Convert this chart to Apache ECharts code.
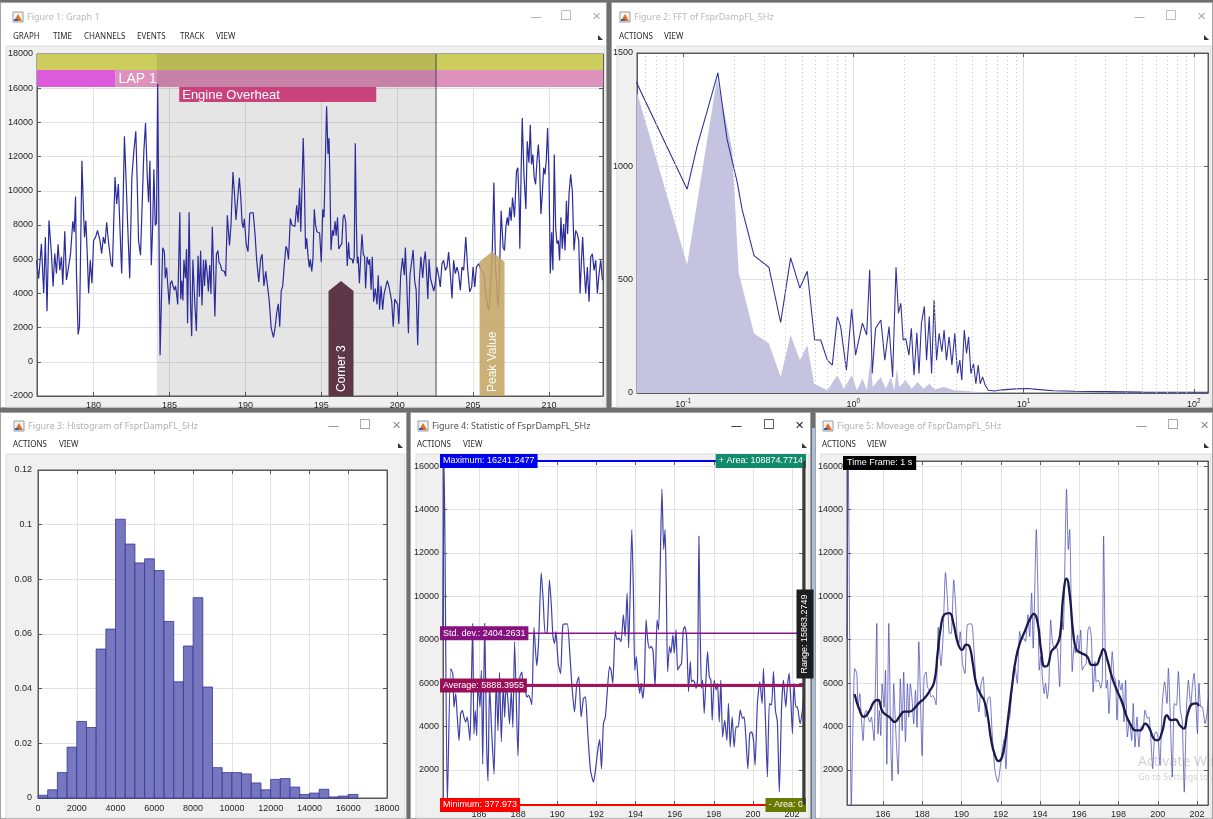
<!DOCTYPE html>
<html>
<head>
<meta charset="utf-8">
<title>FsprDampFL_5Hz analysis</title>
<script src="https://cdn.jsdelivr.net/npm/echarts@6.0.0/dist/echarts.min.js"></script>
<style>
  html, body { margin: 0; padding: 0; background: #6f6f6f; }
  #main { width: 1213px; height: 819px; }
</style>
</head>
<body>
<div id="main"></div>
<script>
// ---------- recorded channel FsprDampFL_5Hz : [time (s), value] ----------
const signal = [
  [176.23,5940],[176.38,4880],[176.56,6900],[176.71,4010],[176.82,7290],[176.93,2950],[177.06,8260],[177.22,6330],[177.33,4400],[177.44,6330],
  [177.55,5170],[177.66,6870],[177.77,5360],[177.88,6140],[177.97,4500],[178.10,7640],[178.21,4780],[178.32,5360],[178.48,6330],[178.63,8220],
  [178.72,7580],[178.81,9670],[178.87,5170],[178.98,1600],[179.07,2080],[179.23,11760],[179.34,8650],[179.40,7290],[179.49,8260],[179.58,6330],
  [179.67,4010],[179.78,5940],[179.89,4590],[180.00,7090],[180.13,7290],[180.26,7680],[180.42,7090],[180.53,6330],[180.64,7290],[180.75,6900],
  [180.86,8160],[180.97,7090],[181.15,5750],[181.24,5560],[181.41,10800],[181.52,9230],[181.63,10390],[181.74,7680],[181.85,5170],[182.03,13190],
  [182.14,10580],[182.25,7870],[182.38,4880],[182.52,10780],[182.65,12310],[182.78,13480],[182.87,10580],[182.96,7090],[183.09,6230],[183.20,9230],
  [183.31,12310],[183.42,13960],[183.53,10970],[183.62,9330],[183.71,11760],[183.80,5650],[183.89,7870],[183.97,11260],[184.06,7970],[184.14,8100],
  [184.22,16241.2477],[184.38,377.973],[184.55,6670],[184.66,6440],[184.72,4890],[184.81,5510],[184.89,4430],[184.98,3350],[185.06,4580],[185.15,4740],
  [185.23,4430],[185.32,4200],[185.40,4430],[185.47,3960],[185.54,3350],[185.61,5970],[185.68,8750],[185.74,3660],[185.81,4740],[185.88,3580],
  [185.95,5970],[186.05,4890],[186.12,6590],[186.19,2260],[186.29,8750],[186.39,3190],[186.46,1490],[186.54,5970],[186.63,4120],[186.68,3190],
  [186.77,1800],[186.88,6200],[186.97,3810],[187.05,6500],[187.14,3300],[187.24,5970],[187.31,4430],[187.39,5970],[187.48,5200],[187.56,4120],
  [187.65,5660],[187.73,3960],[187.82,7900],[187.99,2650],[188.09,6280],[188.19,6510],[188.26,5820],[188.36,5660],[188.45,5350],[188.53,5430],
  [188.62,5280],[188.70,5000],[188.81,8570],[188.95,6800],[189.05,8000],[189.18,11100],[189.28,9840],[189.38,8290],[189.48,8300],[189.60,10760],
  [189.70,9530],[189.78,8140],[189.86,7830],[189.93,8370],[190.05,6900],[190.17,6440],[190.29,8690],[190.51,8730],[190.63,7530],[190.74,5990],
  [190.88,4670],[191.00,5990],[191.10,6290],[191.22,4440],[191.34,5290],[191.44,5370],[191.56,3670],[191.70,1970],[191.85,1430],[191.95,1970],
  [192.07,2900],[192.17,3390],[192.26,2050],[192.36,4130],[192.46,4440],[192.55,5520],[192.67,6760],[192.75,6600],[192.84,5990],[192.96,8380],
  [193.06,8000],[193.16,8070],[193.26,7910],[193.38,9150],[193.47,8150],[193.57,10150],[193.65,7610],[193.81,13080],[193.89,10300],[193.96,6600],
  [194.04,7220],[194.13,6140],[194.21,5520],[194.28,5990],[194.37,5290],[194.45,5990],[194.54,8920],[194.62,8000],[194.71,7610],[194.79,7690],
  [194.89,7530],[195.00,5830],[195.10,8920],[195.18,8450],[195.35,14940],[195.44,12160],[195.51,13080],[195.57,10600],[195.64,6530],[195.74,7690],
  [195.81,7380],[195.91,8220],[195.98,7380],[196.07,8450],[196.15,6600],[196.24,6760],[196.35,6910],[196.44,8450],[196.52,8610],[196.61,8150],
  [196.71,5600],[196.80,6990],[196.86,6060],[196.95,6140],[197.03,5990],[197.09,5760],[197.17,6140],[197.24,12780],[197.31,8150],[197.37,5760],
  [197.43,6140],[197.51,4600],[197.60,6140],[197.68,7450],[197.77,6290],[197.85,6140],[197.92,4290],[198.02,6140],[198.12,5680],[198.19,5990],
  [198.28,4210],[198.36,6140],[198.45,3520],[198.56,4290],[198.67,3360],[198.75,5060],[198.84,3050],[198.94,4440],[199.04,3050],[199.14,3980],
  [199.25,3980],[199.35,4750],[199.47,4370],[199.55,4440],[199.64,3520],[199.74,2050],[199.84,3670],[199.93,3750],[200.03,3360],[200.11,2210],
  [200.23,5060],[200.35,6060],[200.47,5060],[200.54,6680],[200.64,4370],[200.74,1670],[200.84,5060],[200.95,4980],[201.05,6530],[201.15,4750],
  [201.25,4210],[201.35,970],[201.46,4750],[201.56,6140],[201.68,4900],[201.76,5830],[201.85,6450],[201.93,5370],[202.02,3670],[202.10,5990],
  [202.19,4900],[202.27,4900],[202.41,4130],[202.51,4600],[202.62,5540],[202.73,5060],[202.84,4380],[202.95,5740],[203.06,5930],[203.17,5350],
  [203.28,5540],[203.39,6410],[203.50,5160],[203.61,3710],[203.72,5930],[203.83,5160],[203.94,5540],[204.05,5160],[204.16,4190],[204.27,5540],
  [204.38,5350],[204.52,7290],[204.65,5350],[204.78,4090],[204.91,4380],[205.00,5540],[205.11,4380],[205.22,5540],[205.37,5740],[205.53,5350],
  [205.70,5160],[205.84,4000],[205.95,3300],[206.04,3000],[206.15,4380],[206.26,6320],[206.37,10480],[206.48,5540],[206.59,3800],[206.67,3220],
  [206.76,5930],[206.85,8830],[206.98,6700],[207.07,6510],[207.16,7870],[207.25,8450],[207.33,7960],[207.42,9030],[207.51,8250],[207.60,9610],
  [207.73,8450],[207.86,11160],[207.95,11350],[208.04,9030],[208.08,6610],[208.17,11350],[208.24,14250],[208.35,10960],[208.48,8930],[208.57,12900],
  [208.68,11640],[208.77,13860],[208.85,11540],[208.94,12120],[209.03,10770],[209.12,10380],[209.21,11740],[209.30,12700],[209.38,11540],[209.47,8640],
  [209.56,9800],[209.65,11350],[209.74,10960],[209.82,11740],[209.91,13670],[210.00,10960],[210.09,5160],[210.18,7580],[210.26,5350],[210.35,12120],
  [210.44,7870],[210.53,6900],[210.62,7090],[210.70,5930],[210.79,8450],[210.88,6610],[210.97,8060],[211.06,6510],[211.15,9410],[211.23,7480],
  [211.32,9800],[211.43,10960],[211.54,9990],[211.65,6510],[211.76,7680],[211.87,7480],[211.96,7090],[212.05,4000],[212.14,5930],[212.22,7290],
  [212.31,5540],[212.42,4000],[212.53,5540],[212.64,3510],[212.75,6120],[212.86,6320],[212.97,5350],[213.08,5930],[213.19,4000],[213.30,5160],
  [213.41,5930],[213.52,4770]
];

// ---------- moving average over a 1 s time frame : [time (s), value] ----------
const movingAverage = [
  [184.55,5490],[184.77,4830],[185.03,4440],[185.28,4680],[185.54,5140],[185.74,5220],[185.97,4680],[186.31,4440],[186.61,4210],[186.82,4440],
  [187.08,4680],[187.33,4680],[187.59,4830],[187.84,5090],[188.10,5290],[188.35,5600],[188.61,6070],[188.78,7380],[188.95,8620],[189.12,9160],
  [189.38,9230],[189.58,8770],[189.81,7840],[190.03,7530],[190.23,7770],[190.40,7690],[190.57,6920],[190.74,5990],[190.95,5520],[191.17,5140],
  [191.34,4440],[191.51,3360],[191.68,2740],[191.89,2400],[192.06,2590],[192.23,3360],[192.40,4600],[192.59,5990],[192.79,7220],[193.00,7920],
  [193.22,8380],[193.47,8920],[193.68,9190],[193.88,8770],[194.05,7530],[194.24,6760],[194.41,6840],[194.58,7460],[194.81,7690],[195.01,8150],
  [195.18,10010],[195.35,10820],[195.52,10010],[195.69,8310],[195.86,7530],[196.12,7380],[196.41,7220],[196.63,6840],[196.85,6840],[197.06,7220],
  [197.23,7560],[197.43,7070],[197.66,6300],[197.91,5680],[198.17,5140],[198.42,4440],[198.63,4060],[198.85,3820],[199.11,3820],[199.36,4130],
  [199.58,3900],[199.79,3440],[199.99,3360],[200.22,3750],[200.47,4520],[200.68,4290],[200.90,4320],[201.12,4060],[201.32,3900],[201.53,4600],
  [201.75,5030],[201.97,5060],[202.09,4940]
];

// ---------- histogram of the channel (bin start, probability density) ----------
const histBinStart = [0,500,1000,1500,2000,2500,3000,3500,4000,4500,5000,5500,6000,6500,7000,7500,8000,8500,9000,9500,
  10000,10500,11000,11500,12000,12500,13000,13500,14000,14500,15000,15500,16000];
const histBinWidth = 500;
const histDensity = [0.001,0.003,0.0093,0.0186,0.028,0.0258,0.0545,0.0618,0.102,0.0929,0.086,0.0875,0.0832,0.0646,0.0425,0.0556,0.0733,0.0406,0.0111,0.0093,
  0.0093,0.0088,0.0055,0.003,0.0068,0.0071,0.004,0.0013,0.0018,0.0032,0.0004,0.0007,0.0013];

// ---------- FFT : [frequency (Hz), amplitude] ----------
const fftSpectrum = [
  [0.0531,1372],[0.1056,899],[0.121,1090],[0.138,1240],[0.160,1412],[0.181,1121],[0.208,929],[0.222,810],[0.261,606],[0.319,555],
  [0.374,311],[0.428,596],[0.485,463],[0.536,537],[0.592,234],[0.643,234],[0.703,145],[0.752,123],[0.805,337],[0.842,293],
  [0.910,101],[0.977,370],[1.03,167],[1.13,308],[1.197,256],[1.247,544],[1.29,86],[1.35,285],[1.45,322],[1.53,145],
  [1.62,293],[1.70,71],[1.78,555],[1.84,352],[1.90,396],[1.96,234],[2.03,241],[2.12,167],[2.19,285],[2.27,78],
  [2.36,266],[2.43,86],[2.51,308],[2.61,382],[2.69,145],[2.79,337],[2.88,86],[2.98,411],[3.08,145],[3.19,263],
  [3.31,182],[3.41,278],[3.52,145],[3.65,248],[3.79,123],[3.94,263],[4.09,86],[4.22,145],[4.33,56],[4.48,278],
  [4.62,175],[4.75,248],[4.90,86],[5.08,130],[5.24,41],[5.41,123],[5.56,41],[5.74,71],[5.95,34],[6.2,12],
  [6.72,9],[7.5,14],[9,18],[10.5,20],[12,16],[15,10],[20,8],[30,6],[50,4],[80,3],[121,3]
];
const fftFilled = [
  [0.0531,1336],[0.1056,566],[0.158,1385],[0.194,1077],[0.212,530],[0.261,263],[0.319,219],[0.374,71],[0.428,256],[0.485,145],
  [0.536,211],[0.588,41],[0.703,12],[0.805,78],[0.88,19],[0.977,78],[1.05,12],[1.13,64],[1.2,12],[1.26,145],
  [1.3,27],[1.45,71],[1.55,19],[1.66,71],[1.74,12],[1.80,108],[1.86,27],[2.03,56],[2.2,19],[2.38,49],
  [2.58,19],[2.8,41],[3.0,15],[3.4,27],[3.9,12],[4.6,9],[5.5,3],[8,1],[121,0]
];
const fftMinorFreq = [0.06,0.07,0.08,0.09,0.2,0.3,0.4,0.5,0.6,0.7,0.8,0.9,2,3,4,5,6,7,8,9,20,30,40,50,60,70,80,90];
const fftRange = [0.0536, 121];

// ---------- statistics of the selected window ----------
const statMaximum = 16241.2477;
const statMinimum = 377.973;
const statAverage = 5888.3955;
const statStdDev = 2404.2631;
const statAreaPos = 108874.7714;
const statAreaNeg = 0;
const statRange = 15863.2749;

// ---------- track annotations ----------
const graphRange = [176.27, 213.56];
const sessionSpan = [176.27, 213.56];
const laps = [
  { name: '', start: 176.27, end: 181.45 },
  { name: 'LAP 1', start: 181.45, end: 213.56 }
];
const events = [{ name: 'Engine Overheat', start: 185.64, end: 198.62 }];
const selection = [184.16, 202.56];
const markers = [
  { name: 'Corner 3', time: 196.3, value: 4720 },
  { name: 'Peak Value', time: 206.25, value: 6430 }
];
const timeFrameLabel = 'Time Frame: 1 s';

// ---------- drawing ----------
const FONT = '"Liberation Sans", Arial, sans-serif';
const UI_FONT = '"Noto Sans", "Liberation Sans", sans-serif';

function mkAxis(grid, position, o, label) {
  const a = {
    type: o.type || 'value', gridIndex: grid, position: position,
    min: o.min, max: o.max,
    axisLine: { show: true, onZero: false, lineStyle: { color: '#5a5a5a', width: 1 } },
    axisTick: { show: true, inside: true, length: 4, lineStyle: { color: '#5a5a5a' } },
    axisLabel: Object.assign({ color: '#262626', fontSize: 9, fontFamily: FONT, margin: 5, formatter: v => String(v) }, label || {}),
    splitLine: { show: true, lineStyle: { color: '#e2e2e2', width: 1 } },
    silent: true
  };
  if (o.interval !== undefined) a.interval = o.interval;
  if (o.splitNumber !== undefined) a.splitNumber = o.splitNumber;
  if (o.logBase) a.logBase = o.logBase;
  return a;
}
function mkMirror(grid, position, o) {
  const a = mkAxis(grid, position, o);
  a.axisLabel = { show: false };
  a.splitLine = { show: false };
  return a;
}
const hideEnds = { showMinLabel: false, showMaxLabel: false };

const p1x = { min: graphRange[0], max: graphRange[1], splitNumber: 7 };
const p1y = { min: -2000, max: 18000, interval: 2000 };
const p2x = { type: 'log', min: fftRange[0], max: fftRange[1], logBase: 10 };
const p2y = { min: 0, max: 1500, interval: 500 };
const p3x = { min: 0, max: 18000, interval: 2000 };
const p3y = { min: 0, max: 0.12, interval: 0.02 };
const p4x = { min: selection[0], max: selection[1], splitNumber: 9 };
const p4y = { min: statMinimum, max: statMaximum, splitNumber: 8 };

const logLabel = {
  formatter: v => '{b|10}{e|' + Math.round(Math.log10(v)) + '}',
  rich: {
    b: { fontSize: 9, fontFamily: FONT, color: '#262626' },
    e: { fontSize: 6.5, fontFamily: FONT, color: '#262626', padding: [0, 0, 7, 0] }
  },
  showMinLabel: false, showMaxLabel: false
};

const xAxes = [
  mkAxis(0, 'bottom', p1x, hideEnds), mkMirror(0, 'top', p1x),
  mkAxis(1, 'bottom', p2x, logLabel), mkMirror(1, 'top', p2x),
  mkAxis(2, 'bottom', p3x, { margin: 6 }), mkMirror(2, 'top', p3x),
  mkAxis(3, 'bottom', p4x, hideEnds), mkMirror(3, 'top', p4x),
  mkAxis(4, 'bottom', p4x, hideEnds), mkMirror(4, 'top', p4x)
];
const yAxes = [
  mkAxis(0, 'left', p1y, { margin: 4 }), mkMirror(0, 'right', p1y),
  mkAxis(1, 'left', p2y, { margin: 4 }), mkMirror(1, 'right', p2y),
  mkAxis(2, 'left', p3y, { margin: 6 }), mkMirror(2, 'right', p3y),
  mkAxis(3, 'left', p4y, Object.assign({ margin: 4 }, hideEnds)), mkMirror(3, 'right', p4y),
  mkAxis(4, 'left', p4y, Object.assign({ margin: 4 }, hideEnds)), mkMirror(4, 'right', p4y)
];

const gridBase = { show: true, backgroundColor: '#ffffff', borderColor: '#5a5a5a', borderWidth: 1, containLabel: false };
const grids = [
  Object.assign({ left: 37, top: 54, width: 566, height: 342 }, gridBase),
  Object.assign({ left: 637, top: 53, width: 571, height: 340 }, gridBase),
  Object.assign({ left: 38, top: 470, width: 349, height: 328 }, gridBase),
  Object.assign({ left: 443, top: 461, width: 360, height: 344 }, gridBase),
  Object.assign({ left: 847, top: 461, width: 361, height: 344 }, gridBase)
];

// strip rows at the top of the track graph: [offset from plot top, height] in px
const STRIP_ROWS = [[0, 16], [16, 17], [33, 15]];
const STRIP_COLORS = ['#cdcd5e', '#dc5adc', '#de91bc'];
const stripData = [[sessionSpan[0], sessionSpan[1], 0, 0]]
  .concat(laps.map((l, i) => [l.start, l.end, 1, 1 + (i % 2)]));

function renderStrip(params, api) {
  const cs = params.coordSys;
  const x0 = Math.max(cs.x, api.coord([api.value(0), 0])[0]);
  const x1 = Math.min(cs.x + cs.width, api.coord([api.value(1), 0])[0]);
  const row = STRIP_ROWS[api.value(2)];
  return { type: 'rect', shape: { x: x0, y: cs.y + row[0], width: x1 - x0, height: row[1] },
           style: { fill: STRIP_COLORS[api.value(3)] } };
}

function renderSelection(params, api) {
  const cs = params.coordSys;
  const x0 = api.coord([api.value(0), 0])[0];
  const x1 = api.coord([api.value(1), 0])[0];
  return { type: 'group', children: [
    { type: 'rect', shape: { x: x0, y: cs.y, width: x1 - x0, height: cs.height }, style: { fill: 'rgba(0,0,0,0.1)' } },
    { type: 'line', shape: { x1: x1, y1: cs.y, x2: x1, y2: cs.y + cs.height }, style: { stroke: '#4a4a4a', lineWidth: 1 } }
  ] };
}

const annotData = events.map(e => [e.start, e.end, 2, 1])
  .concat(laps.filter(l => l.name).map(l => [l.start, l.end, 1, 0]));
const annotLabels = events.map(e => e.name).concat(laps.filter(l => l.name).map(l => l.name));

function renderAnnot(params, api) {
  const cs = params.coordSys;
  const x0 = api.coord([api.value(0), 0])[0];
  const x1 = api.coord([api.value(1), 0])[0];
  const row = STRIP_ROWS[api.value(2)];
  const boxed = api.value(3) === 1;
  const children = [];
  if (boxed) {
    children.push({ type: 'rect', shape: { x: x0, y: cs.y + row[0], width: x1 - x0, height: row[1] }, style: { fill: '#c9427b' } });
  }
  children.push({ type: 'text', x: x0 + 3, y: cs.y + row[0] + row[1] / 2 + 1,
    style: { text: annotLabels[params.dataIndex], fill: '#ffffff', font: (boxed ? '13px ' : '14px ') + FONT,
             textAlign: 'left', textVerticalAlign: 'middle', align: 'left', verticalAlign: 'middle' } });
  return { type: 'group', children: children };
}

const MARKER_COLORS = ['#5d3747', 'rgba(196,166,100,0.88)'];
const markerData = markers.map(m => [m.time, m.value]);
function renderMarker(params, api) {
  const cs = params.coordSys;
  const p = api.coord([api.value(0), api.value(1)]);
  const bottom = cs.y + cs.height;
  const hw = 12.5, sh = 10;
  return { type: 'group', children: [
    { type: 'polygon', shape: { points: [[p[0] - hw, bottom], [p[0] - hw, p[1] + sh], [p[0], p[1]], [p[0] + hw, p[1] + sh], [p[0] + hw, bottom]] },
      style: { fill: MARKER_COLORS[params.dataIndex] } },
    { type: 'text', x: p[0] + 1, y: bottom - 4, rotation: Math.PI / 2,
      style: { text: markers[params.dataIndex].name, fill: '#ffffff', font: '12px ' + FONT,
               textAlign: 'left', textVerticalAlign: 'middle', align: 'left', verticalAlign: 'middle' } }
  ] };
}

const histData = histBinStart.map((s, i) => [s, histDensity[i]]);
function renderBin(params, api) {
  const x0 = api.value(0), h = api.value(1);
  const a = api.coord([x0, h]);
  const b = api.coord([x0 + histBinWidth, 0]);
  return { type: 'rect', shape: { x: a[0], y: a[1], width: b[0] - a[0], height: b[1] - a[1] },
           style: { fill: '#7777bf', stroke: '#35359c', lineWidth: 0.8 } };
}

// statistic lines of the selected window
const statLines = [
  { value: statMaximum, left: 'Maximum: ' + statMaximum, right: '+ Area: ' + statAreaPos },
  { value: statAverage + statStdDev, left: 'Std. dev.: ' + statStdDev },
  { value: statAverage, left: 'Average: ' + statAverage },
  { value: statMinimum, left: 'Minimum: ' + statMinimum, right: '- Area: ' + statAreaNeg }
];
const STAT_STYLE = [
  { line: '#0000f0', width: 2, box: '#0000f0', rightBox: '#128a6c' },
  { line: '#8c148c', width: 1.5, box: '#85127f' },
  { line: '#a3135f', width: 3, box: '#980f57' },
  { line: '#ff0000', width: 2, box: '#ff0000', rightBox: '#6a7a00' }
];
const statData = statLines.map(s => [selection[0], s.value]);
function boxText(x, y, text, bg, align) {
  return { type: 'text', x: x, y: y, z2: 10,
    style: { text: text, fill: '#ffffff', font: '9px ' + FONT, backgroundColor: bg, padding: [3, 3, 2, 3],
             textAlign: align, textVerticalAlign: 'middle', align: align, verticalAlign: 'middle' } };
}
function renderStat(params, api) {
  const cs = params.coordSys;
  const i = params.dataIndex;
  const st = STAT_STYLE[i];
  const y = api.coord([api.value(0), api.value(1)])[1];
  const children = [
    { type: 'line', shape: { x1: cs.x, y1: y, x2: cs.x + cs.width, y2: y }, style: { stroke: st.line, lineWidth: st.width } },
    boxText(cs.x - 3, y, statLines[i].left, st.box, 'left')
  ];
  if (statLines[i].right) children.push(boxText(cs.x + cs.width + 3, y, statLines[i].right, st.rightBox, 'right'));
  return { type: 'group', children: children };
}
function renderRange(params, api) {
  const cs = params.coordSys;
  const yTop = api.coord([selection[1], api.value(1)])[1];
  const yBot = api.coord([selection[1], api.value(0)])[1];
  const x = cs.x + cs.width + 1;
  return { type: 'group', children: [
    { type: 'line', shape: { x1: x, y1: yTop, x2: x, y2: yBot }, style: { stroke: '#3a3a3a', lineWidth: 3 } },
    { type: 'text', x: x + 1, y: (yTop + yBot) / 2 + 1, rotation: Math.PI / 2, z2: 10,
      style: { text: 'Range: ' + statRange, fill: '#ffffff', font: '9px ' + FONT, backgroundColor: '#1e1e1e', padding: [4, 5, 4, 5],
               textAlign: 'center', textVerticalAlign: 'middle', align: 'center', verticalAlign: 'middle' } }
  ] };
}

const series = [
  // Figure 1: track graph
  { type: 'custom', xAxisIndex: 0, yAxisIndex: 0, z: 1, silent: true, renderItem: renderStrip, data: stripData },
  { type: 'custom', xAxisIndex: 0, yAxisIndex: 0, z: 2, silent: true, renderItem: renderSelection, data: [[selection[0], selection[1]]] },
  { type: 'line', name: 'FsprDampFL_5Hz', xAxisIndex: 0, yAxisIndex: 0, z: 3, data: signal, showSymbol: false, symbol: 'none',
    lineStyle: { color: '#2b2b9c', width: 1.2 } },
  { type: 'custom', xAxisIndex: 0, yAxisIndex: 0, z: 4, silent: true, renderItem: renderAnnot, data: annotData },
  { type: 'custom', xAxisIndex: 0, yAxisIndex: 0, z: 5, silent: true, renderItem: renderMarker, data: markerData },
  // Figure 2: FFT
  { type: 'line', xAxisIndex: 2, yAxisIndex: 2, z: 2, data: fftFilled, showSymbol: false, symbol: 'none',
    lineStyle: { width: 0 }, areaStyle: { color: '#c4c4e1', opacity: 1 },
    markLine: { silent: true, symbol: ['none', 'none'], label: { show: false }, animation: false,
      lineStyle: { type: [1, 3], color: '#c6c6c6', width: 1 },
      data: fftMinorFreq.map(f => ({ xAxis: f })) } },
  { type: 'line', xAxisIndex: 2, yAxisIndex: 2, z: 3, data: fftSpectrum, showSymbol: false, symbol: 'none',
    lineStyle: { color: '#33339a', width: 1.1 } },
  // Figure 3: histogram
  { type: 'custom', xAxisIndex: 4, yAxisIndex: 4, silent: true, renderItem: renderBin, data: histData },
  // Figure 4: statistics
  { type: 'line', xAxisIndex: 6, yAxisIndex: 6, z: 2, data: signal, showSymbol: false, symbol: 'none', smooth: 0.2,
    lineStyle: { color: '#4040aa', width: 1.2 } },
  { type: 'custom', xAxisIndex: 6, yAxisIndex: 6, z: 5, silent: true, renderItem: renderStat, data: statData },
  { type: 'custom', xAxisIndex: 6, yAxisIndex: 6, z: 6, silent: true, renderItem: renderRange, data: [[statMinimum, statMaximum]] },
  // Figure 5: moving average
  { type: 'line', xAxisIndex: 8, yAxisIndex: 8, z: 2, data: signal, showSymbol: false, symbol: 'none', smooth: 0.2,
    lineStyle: { color: 'rgba(66,66,176,0.72)', width: 1 } },
  { type: 'line', xAxisIndex: 8, yAxisIndex: 8, z: 3, data: movingAverage, showSymbol: false, symbol: 'none', smooth: 0.5,
    lineStyle: { color: '#1a1a4e', width: 2.3 } }
];

// ---------- window frames ----------
const windows = [
  { x: 0, y: 2, w: 607, h: 406, title: 'Figure 1: Graph 1', menu: [['GRAPH', 13], ['TIME', 53], ['CHANNELS', 84], ['EVENTS', 137], ['TRACK', 180], ['VIEW', 216]],
    iconX: 13, titleX: 27, titleY: 17, menuY: 37, clientY: 46, ctrl: [531, 560, 592], tone: '#b9b9b9', ctrlTone: '#a8a8a8' },
  { x: 611, y: 2, w: 602, h: 406, title: 'Figure 2: FFT of FsprDampFL_5Hz', menu: [['ACTIONS', 619], ['VIEW', 664]],
    iconX: 620, titleX: 634, titleY: 17, menuY: 37, clientY: 46, ctrl: [1134, 1165, 1197], tone: '#b9b9b9', ctrlTone: '#a8a8a8' },
  { x: 0, y: 412, w: 407, h: 407, title: 'Figure 3: Histogram of FsprDampFL_5Hz', menu: [['ACTIONS', 13], ['VIEW', 59]],
    iconX: 14, titleX: 28, titleY: 426, menuY: 445, clientY: 454, ctrl: [328, 359, 392], tone: '#b0b0b0', ctrlTone: '#8a8a8a' },
  { x: 410, y: 412, w: 401, h: 407, title: 'Figure 4: Statistic of FsprDampFL_5Hz', menu: [['ACTIONS', 417], ['VIEW', 463]],
    iconX: 418, titleX: 432, titleY: 426, menuY: 445, clientY: 454, ctrl: [731, 763, 795], tone: '#505050', ctrlTone: '#222222' },
  { x: 815, y: 412, w: 398, h: 407, title: 'Figure 5: Moveage of FsprDampFL_5Hz', menu: [['ACTIONS', 822], ['VIEW', 867]],
    iconX: 823, titleX: 837, titleY: 426, menuY: 445, clientY: 454, ctrl: [1136, 1167, 1200], tone: '#b0b0b0', ctrlTone: '#8a8a8a' }
];

function txt(x, y, text, font, fill, z, extra) {
  return Object.assign({ type: 'text', x: x, y: y, z: z === undefined ? -5 : z, silent: true,
    style: Object.assign({ text: text, font: font, fill: fill, textAlign: 'left', textVerticalAlign: 'middle', align: 'left', verticalAlign: 'middle' }, extra || {}) });
}

const chrome = [];
windows.forEach(w => {
  chrome.push({ type: 'rect', z: -10, silent: true, shape: { x: w.x + 0.5, y: w.y + 0.5, width: w.w - 1, height: w.h - 1 },
    style: { fill: '#ffffff', stroke: '#a4a4a4', lineWidth: 1 } });
  chrome.push({ type: 'rect', z: -9, silent: true, shape: { x: w.x + 6, y: w.clientY, width: w.w - 8, height: w.y + w.h - w.clientY - 1 },
    style: { fill: '#f0f0f0', stroke: '#dcdcdc', lineWidth: 1 } });
  // figure icon
  chrome.push({ type: 'rect', z: -8, silent: true, shape: { x: w.iconX, y: w.titleY - 5, width: 10, height: 10 },
    style: { fill: '#f4f4f4', stroke: '#9a9a9a', lineWidth: 1 } });
  chrome.push({ type: 'polygon', z: -7, silent: true, shape: { points: [[w.iconX + 1, w.titleY + 4], [w.iconX + 5, w.titleY - 3], [w.iconX + 9, w.titleY + 4]] },
    style: { fill: '#e0701f' } });
  chrome.push({ type: 'rect', z: -7, silent: true, shape: { x: w.iconX + 1, y: w.titleY + 2, width: 4, height: 2 }, style: { fill: '#2f62b5' } });
  chrome.push(txt(w.titleX, w.titleY, w.title, '9px ' + UI_FONT, w.tone));
  w.menu.forEach(m => chrome.push(txt(m[1], w.menuY, m[0], '8px ' + UI_FONT, '#2a2a2a')));
  chrome.push(txt(w.ctrl[0], w.titleY, '\u2014', '11px ' + UI_FONT, w.ctrlTone));
  chrome.push(txt(w.ctrl[1], w.titleY, '\u2610', '13px "DejaVu Sans", sans-serif', w.ctrlTone));
  chrome.push(txt(w.ctrl[2], w.titleY, '\u2715', '11px "DejaVu Sans", sans-serif', w.ctrlTone));
  const rx = w.x + w.w - 5, ry = w.menuY;
  chrome.push({ type: 'polygon', z: -7, silent: true, shape: { points: [[rx - 4, ry - 2], [rx + 1, ry + 3], [rx - 4, ry + 3]] }, style: { fill: '#333333' } });
});
// active-window edge next to Figure 5
chrome.push({ type: 'rect', z: -6, silent: true, shape: { x: 812, y: 428, width: 3, height: 391 }, style: { fill: '#a9c0d8' } });
// Figure 5 time-frame tag
chrome.push(txt(843, 463, timeFrameLabel, '9px ' + FONT, '#ffffff', 60, { backgroundColor: '#000000', padding: [3, 4, 2, 4] }));
// desktop watermark
chrome.push(txt(1138, 762, 'Activate Windows', '14px ' + UI_FONT, 'rgba(128,128,128,0.35)', 70));
chrome.push(txt(1138, 777, 'Go to Settings to activate Windows.', '9px ' + UI_FONT, 'rgba(128,128,128,0.35)', 70));

const chart = echarts.init(document.getElementById('main'), null, { renderer: 'canvas', width: 1213, height: 819 });
chart.setOption({
  animation: false,
  backgroundColor: '#6f6f6f',
  grid: grids,
  xAxis: xAxes,
  yAxis: yAxes,
  series: series,
  graphic: { elements: chrome }
});
</script>
</body>
</html>
